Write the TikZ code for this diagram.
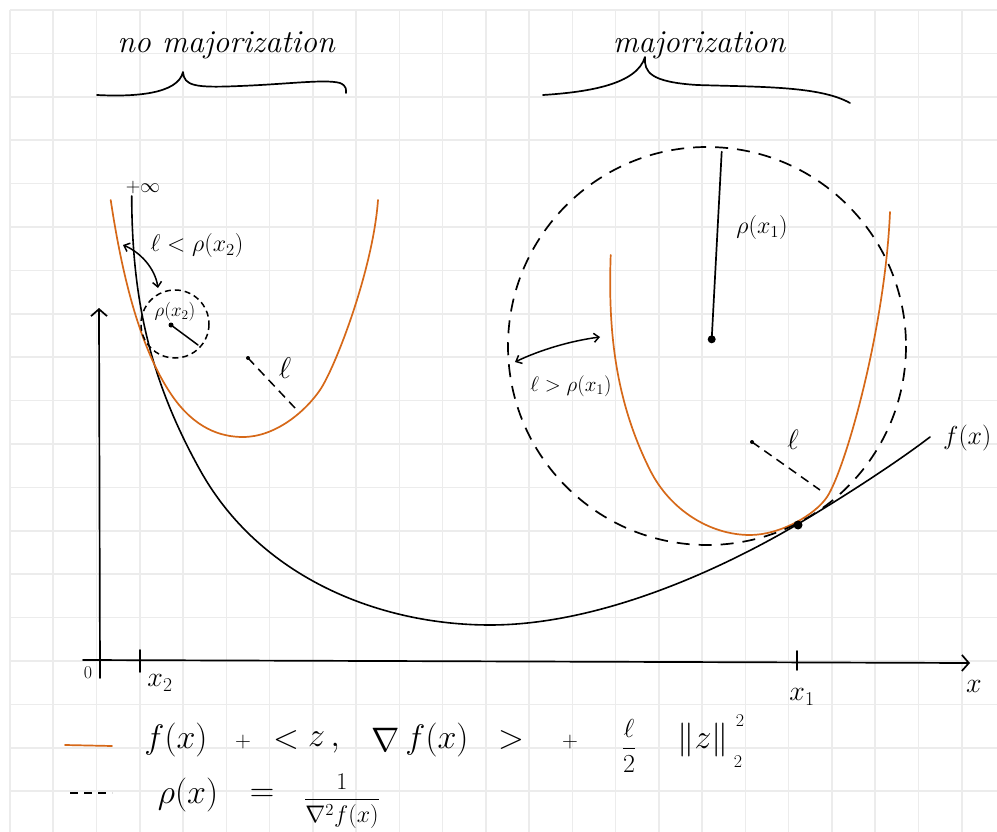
\RequirePackage{fix-cm}
\documentclass[tikz,border=0pt]{standalone}
\usetikzlibrary{arrows.meta}
\definecolor{gridc}{RGB}{236,236,236}
\definecolor{orng}{RGB}{214,104,24}
\begin{document}
\begin{tikzpicture}[x=1pt,y=-1pt,
  gridline/.style={draw=gridc,line width=1.6pt},
  ink/.style={draw=black,line width=1.7pt,line cap=round,line join=round},
  oink/.style={draw=orng,line width=1.7pt,line cap=round,line join=round},
  bigdash/.style={draw=black,line width=1.7pt,dash pattern=on 13pt off 9pt},
  smalldash/.style={draw=black,line width=1.5pt,dash pattern=on 6pt off 4pt},
  ldash/.style={draw=black,line width=1.5pt,dash pattern=on 9pt off 6pt},
  axis/.style={ink,-{Straight Barb[length=7pt,width=16pt,line width=1.7pt]}},
  dbl/.style={ink,line width=1.5pt,{Straight Barb[length=5pt,width=9pt]}-{Straight Barb[length=5pt,width=9pt]}},
  lbl/.style={inner sep=0pt,font=\fontsize{24}{28}\selectfont},
  big/.style={inner sep=0pt,font=\fontsize{34}{40}\selectfont},
  tiny2/.style={inner sep=0pt,font=\fontsize{18}{20}\selectfont},
  title/.style={inner sep=0pt,font=\fontsize{32}{38}\selectfont\itshape},
  dot/.style={circle,fill=black,inner sep=0pt,minimum size=#1}
]
\useasboundingbox (0,0) rectangle (997,832);
\fill[white] (0,0) rectangle (997,832);
% grid
\foreach \k in {0,...,22} \draw[gridline] ({10+43.26*\k},10) -- ({10+43.26*\k},832);
\foreach \k in {0,...,18} \draw[gridline] (10,{10+43.4*\k}) -- (997,{10+43.4*\k});

% titles and braces
\node[title] (tnomaj) at (226,45) {no majorization};
\node[title] (tmaj) at (699,45) {majorization};
\draw[ink] (97,95) .. controls (135,97) and (178,94) .. (183,72)
  .. controls (184,86) and (195,88) .. (240,86)
  .. controls (290,84) and (325,79) .. (340,83)
  .. controls (347,86) and (346,90) .. (346,93);
\draw[ink] (543,95) .. controls (590,92) and (637,84) .. (645,57)
  .. controls (644,72) and (650,82) .. (697,85)
  .. controls (760,87) and (820,86) .. (850,103);

% axes
\coordinate (xo) at (83,660); \coordinate (xe) at (970,663);
\coordinate (yo) at (100,678); \coordinate (ye) at (99,308);
\draw[axis] (xo) -- (xe);
\draw[axis] (yo) -- (ye);
\coordinate (t2a) at (140,650); \coordinate (t2b) at (140,672);
\coordinate (t1a) at (797,651); \coordinate (t1b) at (797,670);
\draw[ink] (t2a) -- (t2b);
\draw[ink] (t1a) -- (t1b);
\node[inner sep=0pt,font=\fontsize{18}{20}\selectfont] (zero) at (88,673) {$0$};
\node[inner sep=0pt,font=\fontsize{28}{32}\selectfont] (lx2) at (160,683) {$x_2$};
\node[inner sep=0pt,font=\fontsize{28}{32}\selectfont] (lx1) at (802,697) {$x_1$};
\node[inner sep=0pt,font=\fontsize{28}{32}\selectfont] (lx) at (974,686) {$x$};

% f(x)
\draw[ink,line width=1.6pt] (131.7,196) .. controls (132,300) and (150,380) .. (200,470)
  .. controls (260,578) and (380,625) .. (490,625)
  .. controls (600,625) and (720,570) .. (798,524)
  .. controls (850,493) and (900,460) .. (930,437);
\node[inner sep=0pt,font=\fontsize{20}{22}\selectfont] (inf) at (143,188) {$+\infty$};
\node[inner sep=0pt,font=\fontsize{26}{30}\selectfont,anchor=west] (fx) at (943,438) {$f(x)$};

% orange majorants
\draw[oink] (110.7,200) .. controls (122,275) and (140,350) .. (173,397)
  .. controls (195,428) and (220,437) .. (243,437)
  .. controls (275,437) and (305,412) .. (320,390)
  .. controls (335,368) and (373,270) .. (378,200);
\draw[oink] (610.7,255) .. controls (608,330) and (615,400) .. (650,470)
  .. controls (670,510) and (710,535) .. (750,535)
  .. controls (780,535) and (815,515) .. (827,497)
  .. controls (845,470) and (885,330) .. (890,212);

% small circle (x2)
\coordinate (c2) at (175,324);
\draw[smalldash] (c2) circle[radius=34];
\node[dot=5pt] (c2dot) at (171,325) {};
\coordinate (c2r) at (198,345);
\draw[ink,line width=1.5pt] (c2dot.center) -- (c2r);
\node[inner sep=0pt,font=\fontsize{19}{21}\selectfont] (rho2) at (175,312) {$\rho(x_2)$};
\node[lbl] (lessl) at (197,246) {$\ell<\rho(x_2)$};
\coordinate (a2s) at (123,245); \coordinate (a2e) at (158,288);
\draw[dbl] (a2s) .. controls (140,252) and (155,268) .. (a2e);

% l segment left
\node[dot=4pt] (l2dot) at (248,358) {};
\coordinate (l2e) at (295,408);
\draw[ldash] (l2dot.center) -- (l2e);
\node[inner sep=0pt,font=\fontsize{30}{34}\selectfont] (l2) at (285,368) {$\ell$};

% big circle (x1)
\coordinate (c1) at (707,346);
\draw[bigdash] (c1) circle[radius=199];
\node[dot=8pt] (c1dot) at (711.7,339.3) {};
\coordinate (c1r) at (721.7,151.7);
\draw[ink] (c1dot.center) -- (c1r);
\node[lbl] (rho1) at (762,228) {$\rho(x_1)$};
\coordinate (a1s) at (515,362); \coordinate (a1e) at (600,337);
\draw[dbl] (a1s) .. controls (540,350) and (570,341) .. (a1e);
\node[inner sep=0pt,font=\fontsize{21}{24}\selectfont] (greaterl) at (571,386) {$\ell>\rho(x_1)$};

% l segment right
\node[dot=4pt] (l1dot) at (752,442) {};
\coordinate (l1e) at (820,490);
\draw[ldash] (l1dot.center) -- (l1e);
\node[inner sep=0pt,font=\fontsize{28}{32}\selectfont] (l1) at (793,440) {$\ell$};

% point x1 on f
\node[dot=9pt] (p1) at (798,525) {};

% legend
\coordinate (lo1) at (65,745); \coordinate (lo2) at (112,746);
\draw[oink] (lo1) -- (lo2);
\coordinate (ld1) at (70,793); \coordinate (ld2) at (112,793);
\draw[draw=black,line width=1.5pt,dash pattern=on 8pt off 6pt] (ld1) -- (ld2);
\node[big] (e1) at (176,740) {$f(x)$};
\node[inner sep=0pt,font=\fontsize{22}{24}\selectfont] (e2) at (243,742) {$+$};
\node[big] (e3) at (286,740) {$<$};
\node[big] (e4) at (324,742) {$z\,,$};
\node[big] (e5) at (386,740) {$\nabla$};
\node[big] (e6) at (437,740) {$f(x)$};
\node[big] (e7) at (511,740) {$>$};
\node[inner sep=0pt,font=\fontsize{22}{24}\selectfont] (e8) at (570,742) {$+$};
\node[inner sep=0pt,font=\fontsize{26}{30}\selectfont] (e9) at (629,746) {$\displaystyle\frac{\ell}{2}$};
\node[big] (e10) at (703,740) {$\|z\|$};
\node[tiny2] (e11) at (740,721) {$2$};
\node[tiny2] (e12) at (738,762) {$2$};
\node[big] (r1) at (188,795) {$\rho(x)$};
\node[big] (r2) at (262,795) {$=$};
\node[inner sep=0pt,font=\fontsize{24}{28}\selectfont] (r3) at (342,801) {$\displaystyle\frac{1}{\nabla^2 f(x)}$};
\end{tikzpicture}
\end{document}
